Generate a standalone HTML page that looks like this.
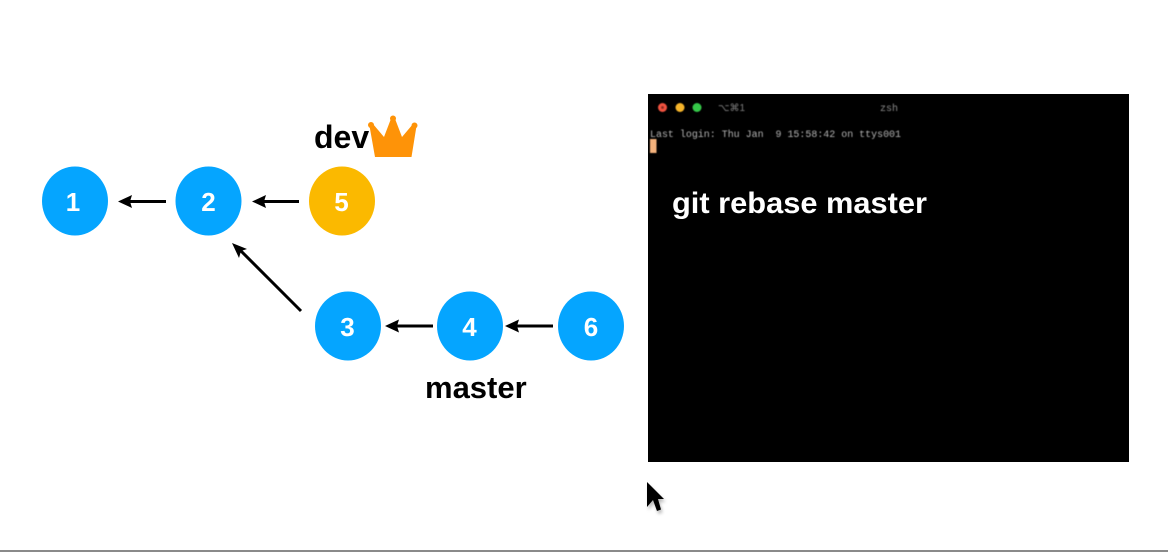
<!DOCTYPE html>
<html>
<head>
<meta charset="utf-8">
<style>
html,body{margin:0;padding:0;background:#fff}
body{width:1168px;height:552px;overflow:hidden}
svg{display:block}
text{font-family:"Liberation Sans",sans-serif}
</style>
</head>
<body>
<svg width="1168" height="552" viewBox="0 0 1168 552" xmlns="http://www.w3.org/2000/svg">
<defs>
<filter id="b" x="-5%" y="-5%" width="110%" height="110%"><feGaussianBlur stdDeviation="0.4"/></filter>
<filter id="s" x="-50%" y="-50%" width="200%" height="200%"><feGaussianBlur stdDeviation="1.6"/></filter>
</defs>
<rect width="1168" height="552" fill="#fff"/>
<rect x="0" y="550" width="1168" height="2" fill="#8a8a8a"/>

<!-- nodes -->
<g>
<ellipse cx="75" cy="201" rx="33" ry="34.5" fill="#05a5ff"/>
<ellipse cx="208.500" cy="201" rx="33" ry="34.5" fill="#05a5ff"/>
<ellipse cx="342" cy="201" rx="33" ry="34.5" fill="#fbb900"/>
<ellipse cx="348" cy="326" rx="33" ry="34.5" fill="#05a5ff"/>
<ellipse cx="470" cy="326" rx="33" ry="34.5" fill="#05a5ff"/>
<ellipse cx="591" cy="326" rx="33" ry="34.5" fill="#05a5ff"/>
</g>
<g font-size="26" font-weight="700" fill="#fff" text-anchor="middle">
<text x="73" y="211">1</text>
<text x="208.500" y="211">2</text>
<text x="341.500" y="211">5</text>
<text x="347.500" y="336">3</text>
<text x="469.500" y="336">4</text>
<text x="591" y="336">6</text>
</g>

<!-- arrows -->
<g stroke="#000" stroke-width="3" fill="none">
<line x1="166" y1="201.500" x2="128" y2="201.500"/>
<line x1="299" y1="201.500" x2="262" y2="201.500"/>
<line x1="301" y1="311" x2="240" y2="250"/>
<line x1="433" y1="326" x2="396" y2="326"/>
<line x1="553" y1="326" x2="515" y2="326"/>
</g>
<g fill="#000">
<polygon points="118,201.500 132,195 130,201.500 132,208"/>
<polygon points="252,201.500 266,195 264,201.500 266,208"/>
<polygon points="232,243 247,249 241,251 239,258"/>
<polygon points="385,326 399,319.500 397,326 399,332.500"/>
<polygon points="505,326 519,319.500 517,326 519,332.500"/>
</g>

<!-- labels -->
<text x="314" y="148" font-size="32" font-weight="700" fill="#000">dev</text>
<text x="425" y="398" font-size="31" font-weight="700" fill="#000">master</text>

<!-- crown -->
<polygon points="375,157 369.500,126 373,124 384,137 390.500,120 395.500,120 402,137 413,124 416.500,126 411.500,157" fill="#fe9308"/>
<circle cx="371" cy="125" r="3" fill="#fe9308"/>
<circle cx="393" cy="118.500" r="3" fill="#fe9308"/>
<circle cx="414.500" cy="125.500" r="3" fill="#fe9308"/>

<!-- terminal -->
<rect x="648" y="94" width="481" height="368" fill="#000"/>
<g filter="url(#b)">
<circle cx="662.500" cy="107.500" r="4.500" fill="#f0523f"/>
<circle cx="662.500" cy="107.500" r="1.500" fill="#8a2a20"/>
<circle cx="680" cy="107.500" r="4.500" fill="#f5b42c"/>
<circle cx="697" cy="107.500" r="4.500" fill="#36c748"/>
<text x="718" y="111" font-size="10" fill="#7e7e7e" font-family="'Liberation Sans','DejaVu Sans',sans-serif">⌥⌘1</text>
<text x="880" y="111" font-size="10" fill="#8c8c8c" style="font-family:'Liberation Mono',monospace">zsh</text>
<text x="650" y="137" font-size="10" fill="#b4b4b4" style="font-family:'Liberation Mono',monospace" textLength="251" lengthAdjust="spacingAndGlyphs" xml:space="preserve">Last login: Thu Jan  9 15:58:42 on ttys001</text>
<rect x="650" y="139" width="6.500" height="14" fill="#f4b27c"/>
</g>
<text x="672" y="213" font-size="30" font-weight="700" fill="#fff" textLength="255" lengthAdjust="spacingAndGlyphs">git rebase master</text>

<!-- cursor -->
<polygon points="647,482 647,507 653,500 657,511 661,509.500 658,499 664,499" fill="#777" opacity=".5" filter="url(#s)" transform="translate(1.500,3)"/>
<polygon points="647,482 647,507 653,500 657,511 661,509.500 658,499 664,499" fill="#000"/>
</svg>
</body>
</html>
